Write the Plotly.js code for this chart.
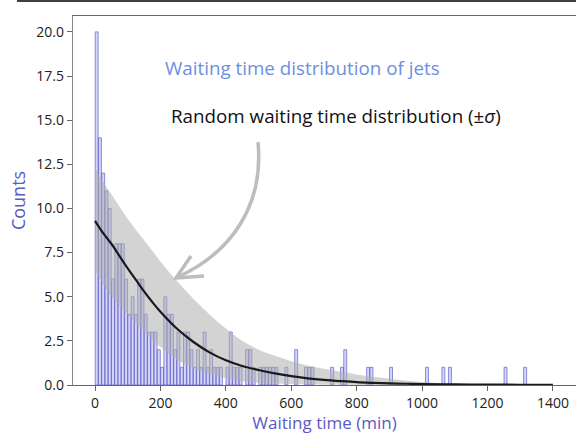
<!DOCTYPE html>
<html><head><meta charset="utf-8">
<script src="https://cdn.plot.ly/plotly-3.0.1.min.js"></script>
<style>html,body{margin:0;padding:0;background:#fff;}#chart{width:576px;height:434px;}</style>
</head><body><div id="chart"></div>
<script>
// Histogram: left edge of each 10-min bin and its count (empty bins omitted)
const binLeft = [0,10,20,30,40,50,60,70,80,90,100,110,120,130,140,150,160,170,180,190,200,210,220,230,240,250,260,270,280,290,300,310,320,330,340,350,360,370,380,400,410,420,430,440,460,470,480,500,510,520,530,540,550,580,610,640,650,660,720,750,760,830,840,900,1010,1060,1080,1250,1310];
const counts  = [20,14,12,11,10,6,8,8,8,6,4,5,4,6,6,4,3,3,3,2,1,5,4,4,2,3,1,3,3,2,1,2,1,3,1,2,1,1,1,1,3,1,1,1,2,2,1,1,1,1,1,1,1,1,2,1,1,1,1,1,2,1,1,1,1,1,1,1,1];
const binWidth = 10;

// Random waiting time distribution: mean and ±sigma band
const modelT     = [0,25,50,75,100,125,150,175,200,250,300,350,400,450,500,550,600,650,700,750,800,850,900,950,1000,1100,1200,1300,1400];
const modelMean  = [9.3,8.6,8.0,7.3,6.6,5.95,5.3,4.7,4.15,3.2,2.45,1.85,1.4,1.08,0.85,0.66,0.5,0.38,0.29,0.22,0.16,0.12,0.09,0.07,0.05,0.03,0.02,0.015,0.01];
const modelUpper = [12.3,11.5,10.8,10.1,9.4,8.8,8.2,7.6,7.0,5.9,4.9,4.0,3.2,2.5,2.0,1.65,1.35,1.1,0.92,0.75,0.6,0.47,0.36,0.26,0.17,0.07,0.03,0.02,0.01];
const modelLower = [6.5,5.7,5.0,4.5,4.0,3.5,3.0,2.55,2.15,1.45,0.95,0.62,0.38,0.22,0.13,0.08,0.05,0.03,0.02,0.01,0,0,0,0,0,0,0,0,0];

const xTicks = [0,200,400,600,800,1000,1200,1400];
const yTicks = [0,2.5,5,7.5,10,12.5,15,17.5,20];

const binCenter = binLeft.map(v => v + binWidth/2);

// pixel -> paper helpers (plot area: x 73..576, y 16..385)
const PX = p => (p - 73) / 503;
const PY = p => (385 - p) / 369;

const traces = [
  {x: modelT, y: modelLower, type:'scatter', mode:'lines', line:{width:0, color:'rgba(0,0,0,0)', shape:'spline'}, hoverinfo:'skip', showlegend:false},
  {x: modelT, y: modelUpper, type:'scatter', mode:'lines', fill:'tonexty', fillcolor:'rgba(175,175,175,0.55)', line:{width:0, color:'rgba(0,0,0,0)', shape:'spline'}, showlegend:false},
  {x: binCenter, y: counts, type:'bar', width: 9,
   marker:{color:'rgba(120,120,225,0.3)', line:{color:'rgba(95,95,205,0.7)', width:1}}, showlegend:false},
  {x: modelT, y: modelMean, type:'scatter', mode:'lines', line:{color:'#1a1a1a', width:2.2, shape:'spline'}, showlegend:false}
];

const arrowPath = `M ${PX(258)} ${PY(142)} C ${PX(264)} ${PY(205)} ${PX(232)} ${PY(252)} ${PX(178)} ${PY(277)}`;
const headPath = `M ${PX(191)} ${PY(256)} L ${PX(176)} ${PY(278)} L ${PX(204)} ${PY(276)}`;

const layout = {
  width:576, height:434,
  margin:{l:73, r:0, t:16, b:49},
  paper_bgcolor:'#fff', plot_bgcolor:'#fff',
  font:{family:'Open Sans, sans-serif', color:'#222'},
  bargap:0,
  xaxis:{range:[-67.3,1470.5], tickvals:xTicks, ticktext:xTicks.map(String),
    showgrid:false, zeroline:false, showline:true, linecolor:'#666', linewidth:1.2, mirror:true,
    ticks:'outside', ticklen:5, tickcolor:'#666', tickfont:{size:14, color:'#222'},
    title:{text:'Waiting time (min)', font:{size:17, color:'#5a5ac4'}, standoff:5}},
  yaxis:{range:[0,20.9], tickvals:yTicks, ticktext:yTicks.map(v=>v.toFixed(1)),
    showgrid:false, zeroline:false, showline:true, linecolor:'#888', linewidth:1.2, mirror:true,
    ticks:'outside', ticklen:5, tickcolor:'#666', tickfont:{size:14, color:'#222'},
    title:{text:'Counts', font:{size:18, color:'#5a5ac4'}, standoff:6}},
  shapes:[
    {type:'line', xref:'paper', yref:'paper', x0:PX(17), x1:PX(576), y0:PY(1), y1:PY(1), line:{color:'#000', width:1.5}},
    {type:'path', xref:'paper', yref:'paper', path:arrowPath, line:{color:'#bdbdbd', width:3.5}},
    {type:'path', xref:'paper', yref:'paper', path:headPath, line:{color:'#bdbdbd', width:3.5}}
  ],
  annotations:[
    {xref:'paper', yref:'paper', x:PX(302), y:PY(68), xanchor:'center', yanchor:'middle', text:'Waiting time distribution of jets', showarrow:false,
     font:{size:18.8, color:'#6d8fe0'}},
    {xref:'paper', yref:'paper', x:PX(336), y:PY(116), xanchor:'center', yanchor:'middle', text:'Random waiting time distribution (±<i>σ</i>)', showarrow:false,
     font:{size:18.8, color:'#111'}}
  ]
};

Plotly.newPlot('chart', traces, layout, {displayModeBar:false, staticPlot:true});
</script>
</body></html>
